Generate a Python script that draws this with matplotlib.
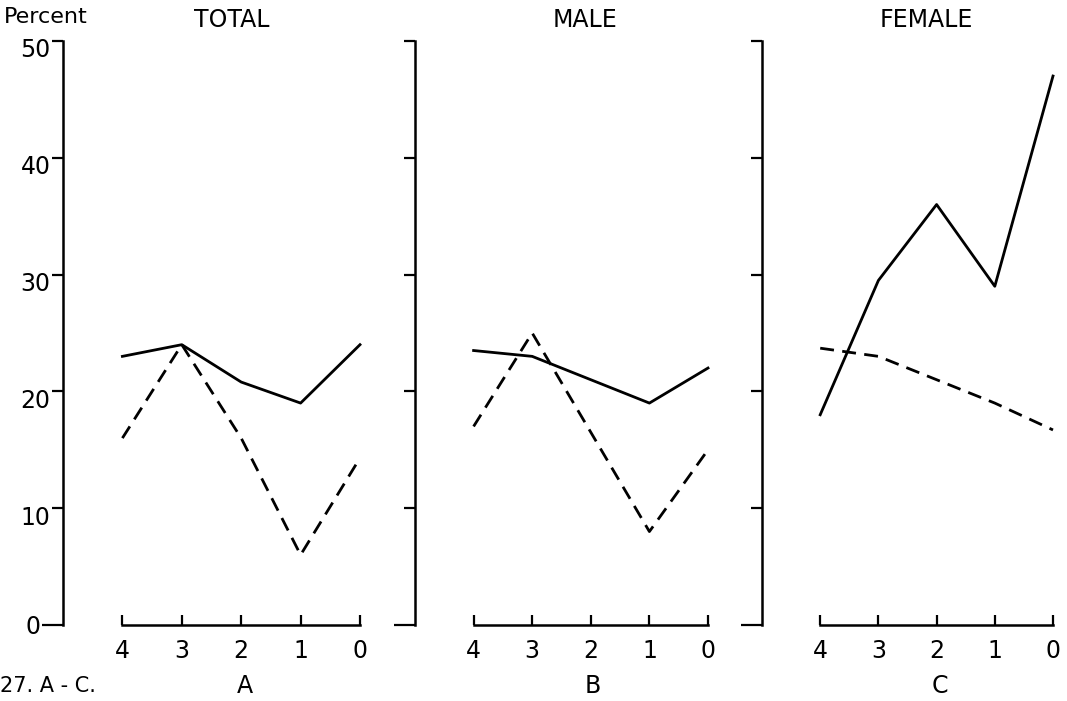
import matplotlib
matplotlib.use("Agg")
import matplotlib.pyplot as plt
import matplotlib.transforms as mtransforms

# %% Data (percent by score 4..0)
scores = [4, 3, 2, 1, 0]
score_labels = ["4", "3", "2", "1", "0"]
y_ticks = [10, 20, 30, 40, 50]
y_tick_labels = ["10", "20", "30", "40", "50"]

total_solid = [23, 24, 20.8, 19, 24]
total_dashed = [16, 24, 16, 6, 14.3]
male_solid = [23.5, 23, 21, 19, 22]
male_dashed = [17, 25, 16.5, 8, 15]
female_solid = [18, 29.5, 36, 29, 47]
female_dashed = [23.7, 23, 21, 19, 16.7]

titles = ["TOTAL", "MALE", "FEMALE"]
letters = ["A", "B", "C"]

# %% Layout (pixel positions of each panel's y spine and x=0 end)
W, H = 1067, 701
panels = [(63, 360), (415, 708), (762, 1053)]
y_bottom_px, y_top_px = 625, 41

plt.rcParams['font.family'] = ['DejaVu Sans']
fig = plt.figure(figsize=(W / 100, H / 100), dpi=100)

series = [(total_solid, total_dashed), (male_solid, male_dashed),
          (female_solid, female_dashed)]

for i, ((left_px, right_px), (solid, dashed)) in enumerate(zip(panels, series)):
    ax = fig.add_axes([left_px / W, (H - y_bottom_px) / H,
                       (right_px - left_px) / W, (y_bottom_px - y_top_px) / H])
    ax.plot(scores, solid, color='black', lw=2, clip_on=False)
    ax.plot(scores, dashed, color='black', lw=2, ls=(0, (5, 3)),
            clip_on=False)

    ax.set_xlim(5, 0)
    ax.set_ylim(0, 50)

    ax.spines['top'].set_visible(False)
    ax.spines['right'].set_visible(False)
    ax.spines['left'].set_linewidth(1.8)
    ax.spines['bottom'].set_linewidth(1.8)
    ax.spines['bottom'].set_bounds(0, 4)

    ax.set_xticks(scores)
    ax.set_xticklabels(score_labels)
    ax.tick_params(axis='x', direction='in', length=7, width=1.6,
                   pad=10, labelsize=17)

    ax.set_yticks(y_ticks)
    ax.set_yticks([0], minor=True)
    ax.tick_params(axis='y', which='major', direction='out', length=8,
                   width=1.6, pad=1, labelsize=17)
    ax.tick_params(axis='y', which='minor', direction='out', length=15,
                   width=1.6, pad=1, labelsize=17)
    if i == 0:
        ax.set_yticklabels(y_tick_labels)
        ax.set_yticklabels(["0"], minor=True)
        # labels sit a little below their ticks in the original
        shift = mtransforms.ScaledTranslation(0, -5 / 72, fig.dpi_scale_trans)
        for lab in ax.get_yticklabels():
            lab.set_transform(lab.get_transform() + shift)
    else:
        ax.set_yticklabels([])
        ax.set_yticklabels([], minor=True)

    ax.patch.set_alpha(0)

# %% Titles and labels
def px_text(x, y, s, size=17, **kw):
    fig.text(x / W, 1 - y / H, s, fontsize=size, va='center', **kw)

px_text(4, 17, "Percent", size=16, ha='left')
px_text(232, 20, titles[0], ha='center')
px_text(585, 20, titles[1], ha='center')
px_text(926, 20, titles[2], ha='center')

px_text(0, 686, "27. A - C.", size=15, ha='left')
px_text(245, 686, letters[0], ha='center')
px_text(593, 686, letters[1], ha='center')
px_text(940, 686, letters[2], ha='center')

fig.savefig("out.png", dpi=100)
